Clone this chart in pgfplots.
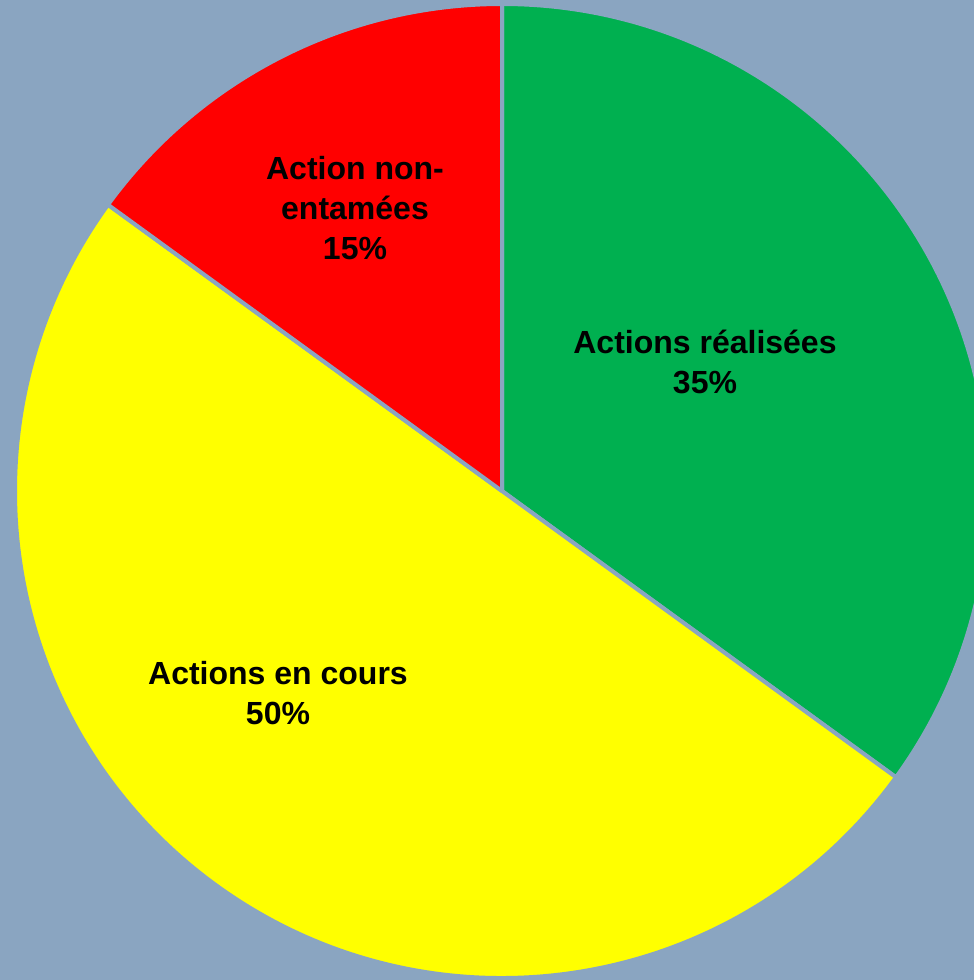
\documentclass[border=0pt]{standalone}
\usepackage{pgfplots}
\pgfplotsset{compat=1.18}
\usepackage{pgfplotstable}
\usepackage{fontspec}
\setmainfont{Liberation Sans}
\definecolor{bg}{HTML}{8AA5C1}
\definecolor{cgreen}{HTML}{00B050}
\definecolor{cyellow}{HTML}{FFFF00}
\definecolor{cred}{HTML}{FF0000}
\pgfplotstableread{
start pct color
0  35 cgreen
35 50 cyellow
85 15 cred
}\piedata
\begin{document}
\begin{tikzpicture}
\clip (0,0) rectangle (487pt,490pt);
\fill[bg] (0,0) rectangle (487pt,490pt);
\begin{axis}[
  at={(0,0)}, anchor=south west,
  x=0.5pt, y=0.5pt,
  xmin=0, xmax=974, ymin=0, ymax=980,
  hide axis, clip=false,
]
\pgfplotsforeachungrouped \i in {0,1,2}{%
  \pgfplotstablegetelem{\i}{start}\of\piedata \let\s\pgfplotsretval
  \pgfplotstablegetelem{\i}{pct}\of\piedata \let\p\pgfplotsretval
  \pgfplotstablegetelem{\i}{color}\of\piedata \let\c\pgfplotsretval
  \pgfmathsetmacro{\sa}{90-3.6*\s}
  \pgfmathsetmacro{\da}{-3.6*\p}
  \edef\temp{\noexpand\fill[\c, draw=bg, line width=2pt, line join=round]
    (axis cs:502,489) -- ++(\sa:243.5pt) arc[start angle=\sa, delta angle=\da, radius=243.5pt] -- cycle;}
  \temp
}
\tikzset{lab/.style={align=center, font=\bfseries\fontsize{16}{20}\selectfont, text=black}}
\node[lab] at (axis cs:705,618) {Actions réalisées\\35\%};
\node[lab] at (axis cs:355,772) {Action non-\\entamées\\15\%};
\node[lab] at (axis cs:278,287) {Actions en cours\\50\%};
\end{axis}
\end{tikzpicture}
\end{document}
